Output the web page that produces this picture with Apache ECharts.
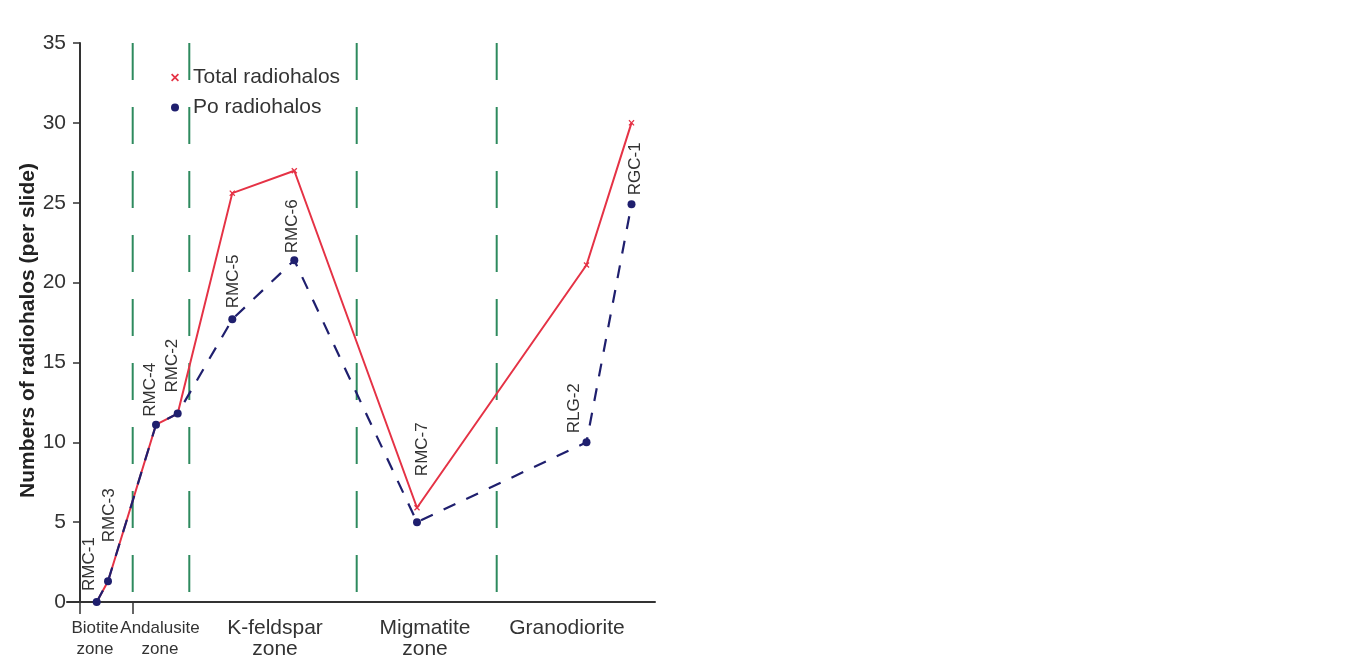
<!DOCTYPE html>
<html><head><meta charset="utf-8">
<script src="https://cdn.jsdelivr.net/npm/echarts@6/dist/echarts.min.js"></script>
<style>html,body{margin:0;padding:0;background:#fff}#c{width:1367px;height:669px}</style>
</head><body><div id="c"></div>
<script>
// ---- data ----
const samples = ['RMC-1', 'RMC-3', 'RMC-4', 'RMC-2', 'RMC-5', 'RMC-6', 'RMC-7', 'RLG-2', 'RGC-1'];
const samplePos = [16.7, 28, 76, 97.7, 152.3, 214.3, 337, 506.5, 551.5];
const totalRadiohalos = [0, 1.3, 11.1, 11.8, 25.6, 27.0, 5.9, 21.1, 30.0];
const poRadiohalos = [0, 1.3, 11.1, 11.8, 17.7, 21.4, 5.0, 10.0, 24.9];
const zoneNames = ['Biotite\nzone', 'Andalusite\nzone', 'K-feldspar\nzone', 'Migmatite\nzone', 'Granodiorite'];
const zoneLabelPos = [15, 80, 195, 345, 487];
const zoneBoundaries = [52.7, 109.3, 276.7, 416.7];
const yMin = 0, yMax = 35, yStep = 5;

// ---- styling (not data) ----
const FONT = "'Liberation Sans', Arial, Helvetica, sans-serif";
const RED = '#e53245', NAVY = '#1f1f6e', GREEN = '#2e8a5e', AXIS = '#333';
const PO_SIZE = 8;
// label shift per sample: [dx from point, gap above point]
const labelShift = [[-7, 11], [1, 39], [-6, 8], [-5, 21], [1, 11], [-2, 7], [5, 46], [-12, 9], [4, 9]];
const X_ICON = 'path://M0,1.5L1.5,0L5,3.5L8.5,0L10,1.5L6.5,5L10,8.5L8.5,10L5,6.5L1.5,10L0,8.5L3.5,5Z';

const chart = echarts.init(document.getElementById('c'), null, {renderer: 'canvas'});

const boundarySeries = zoneBoundaries.map(x => ({
  type: 'line',
  data: [[x, yMax], [x, yMin]],
  symbol: 'none',
  silent: true,
  z: 1,
  lineStyle: {color: GREEN, width: 2, type: [37, 27]}
}));

const option = {
  animation: false,
  backgroundColor: '#fff',
  textStyle: {fontFamily: FONT},
  grid: {left: 67, right: 712, top: 43, bottom: 67, containLabel: false, outerBoundsMode: 'none'},
  legend: {
    orient: 'vertical',
    left: 166, top: 62,
    itemWidth: 8, itemHeight: 8, itemGap: 9,
    textStyle: {fontSize: 21, color: '#333', fontFamily: FONT, padding: [0, 0, 0, 9]},
    data: [
      {name: 'Total radiohalos', icon: X_ICON, itemStyle: {color: RED}},
      {name: 'Po radiohalos', icon: 'circle', itemStyle: {color: NAVY}}
    ]
  },
  xAxis: {
    type: 'value', min: -13, max: 575,
    splitLine: {show: false},
    axisLine: {show: true, onZero: true, lineStyle: {color: AXIS, width: 2}},
    axisTick: {show: true, customValues: [0, zoneBoundaries[0]], length: 12, lineStyle: {color: AXIS, width: 1.5}},
    axisLabel: {
      customValues: zoneLabelPos,
      color: '#333', fontSize: 21, lineHeight: 21, margin: 16, fontFamily: FONT,
      formatter: function (v) {
        const i = zoneLabelPos.findIndex(p => Math.abs(p - v) < 1e-6);
        if (i < 0) return '';
        const parts = zoneNames[i].split('\n');
        const st = i < 2 ? 'n' : 'w';
        return parts.map(p => '{' + st + '|' + p + '}').join('\n');
      },
      rich: {
        n: {fontSize: 17, lineHeight: 21, color: '#333', fontFamily: FONT},
        w: {fontSize: 21, lineHeight: 21, color: '#333', fontFamily: FONT}
      }
    }
  },
  yAxis: {
    type: 'value', min: yMin, max: yMax, interval: yStep,
    name: 'Numbers of radiohalos (per slide)',
    nameLocation: 'middle', nameGap: 20,
    nameTextStyle: {fontSize: 21, fontWeight: 'bold', color: '#222', fontFamily: FONT, padding: [0, 16, 0, 0]},
    splitLine: {show: false},
    axisLine: {show: true, onZero: true, lineStyle: {color: AXIS, width: 2}},
    axisTick: {show: true, length: 7, lineStyle: {color: AXIS, width: 1.5}},
    axisLabel: {fontSize: 21, color: '#333', margin: 1, fontFamily: FONT}
  },
  series: [
    ...boundarySeries,
    {
      name: 'Total radiohalos',
      type: 'line',
      z: 3,
      data: samples.map((s, i) => ({name: s, value: [samplePos[i], totalRadiohalos[i]]})),
      symbol: X_ICON, symbolSize: 6,
      itemStyle: {color: RED},
      lineStyle: {color: RED, width: 2}
    },
    {
      name: 'Po radiohalos',
      type: 'line',
      z: 4,
      data: samples.map((s, i) => ({
        name: s,
        value: [samplePos[i], poRadiohalos[i]],
        label: {position: [PO_SIZE / 2 + labelShift[i][0], PO_SIZE / 2 - labelShift[i][1]]}
      })),
      symbol: 'circle', symbolSize: PO_SIZE,
      itemStyle: {color: NAVY},
      lineStyle: {color: NAVY, width: 2.2, type: [13, 12]},
      label: {
        show: true, formatter: '{b}', rotate: 90,
        align: 'left', verticalAlign: 'middle',
        fontSize: 17, color: '#333', fontFamily: FONT
      }
    }
  ]
};
chart.setOption(option);
</script>
</body></html>
